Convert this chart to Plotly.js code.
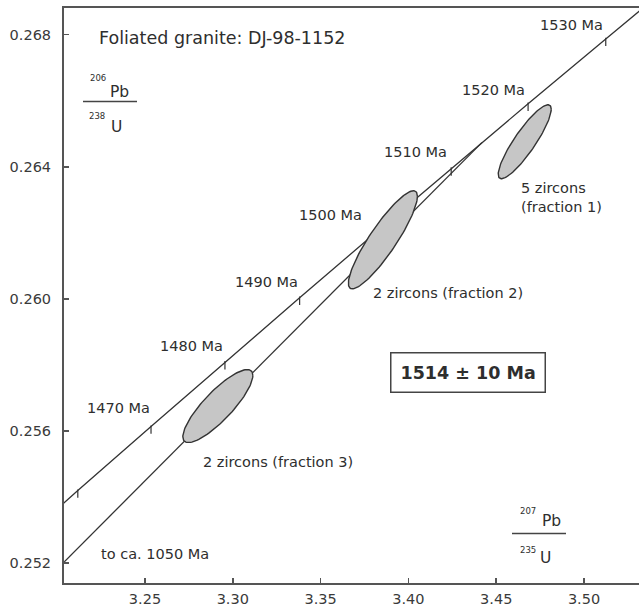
<!DOCTYPE html>
<html><head><meta charset="utf-8">
<script src="https://cdn.plot.ly/plotly-3.0.1.min.js"></script>
<style>html,body{margin:0;padding:0;background:#fff}#chart{width:639px;height:608px}</style>
</head><body><div id="chart"></div>
<script>
// Concordia curve points (age in Ma, 207Pb/235U, 206Pb/238U)
const concAges = [1455, 1460, 1470, 1480, 1490, 1500, 1510, 1520, 1530, 1540];
const concX = [3.19107, 3.21176, 3.25345, 3.29554, 3.33806, 3.38099, 3.42436, 3.46815, 3.51237, 3.55704];
const concY = [0.253209, 0.254189, 0.256128, 0.258078, 0.260031, 0.261987, 0.263947, 0.265909, 0.267874, 0.269843];
const tickAges = [1460, 1470, 1480, 1490, 1500, 1510, 1520, 1530];
// Discordia (to ca. 1050 Ma, upper intercept 1514 Ma)
const discX = [3.19, 3.44181];
const discY = [0.25128, 0.264731];
// Zircon fractions: centre, half-widths, correlation
const fracNames = ["fraction 1", "fraction 2", "fraction 3"];
const ellCx = [3.46623, 3.38548, 3.2915];
const ellCy = [0.264758, 0.261788, 0.25675];
const ellSx = [0.01509, 0.01965, 0.01993];
const ellSy = [0.001121, 0.001485, 0.001106];
const ellRho = [0.88, 0.886, 0.84];
// Axis ticks
const xTicks = [3.25, 3.30, 3.35, 3.40, 3.45, 3.50];
const xTickText = ["3.25", "3.30", "3.35", "3.40", "3.45", "3.50"];
const yTicks = [0.252, 0.256, 0.260, 0.264, 0.268];
const yTickText = ["0.252", "0.256", "0.260", "0.264", "0.268"];

const FONT = "DejaVu Sans, sans-serif";
const TXT = "#2e2e2e";
const L = 64, T = 8, W = 575, H = 575;
const px = x => (x - L) / W;
const py = y => (T + H - y) / H;

const traces = [];
traces.push({x: discX, y: discY, mode: "lines", line: {color: "#333", width: 1.3}, hoverinfo: "skip"});
traces.push({x: concX, y: concY, mode: "lines", line: {color: "#333", width: 1.3}, hoverinfo: "skip"});
const tx = [], ty = [];
tickAges.forEach(a => { const i = concAges.indexOf(a); tx.push(concX[i]); ty.push(concY[i]); });
traces.push({x: tx, y: ty, mode: "markers", hoverinfo: "skip",
  marker: {symbol: "line-ns", size: 6, angle: 0, standoff: 3, color: "#333", line: {color: "#333", width: 1.2}}});
for (let k = 0; k < ellCx.length; k++) {
  const ex = [], ey = [];
  const s = Math.sqrt(1 - ellRho[k] * ellRho[k]);
  for (let j = 0; j <= 120; j++) {
    const th = 2 * Math.PI * j / 120;
    ex.push(ellCx[k] + ellSx[k] * Math.cos(th));
    ey.push(ellCy[k] + ellSy[k] * (ellRho[k] * Math.cos(th) + s * Math.sin(th)));
  }
  traces.push({x: ex, y: ey, mode: "lines", fill: "toself", fillcolor: "#c6c6c6",
    line: {color: "#333", width: 1.4}, name: fracNames[k], hoverinfo: "skip"});
}

function ann(text, x, y, size, opts) {
  return Object.assign({text: text, xref: "paper", yref: "paper", x: px(x), y: py(y),
    xanchor: "center", yanchor: "middle",
    showarrow: false, font: {family: FONT, size: size, color: TXT}}, opts || {});
}
const annotations = [
  ann("Foliated granite: DJ-98-1152", 97, 38, 17.5, {xanchor: "left"}),
  ann("1530 Ma", 571, 25, 14.5), ann("1520 Ma", 493, 90, 14.5), ann("1510 Ma", 415, 152, 14.5),
  ann("1500 Ma", 330, 215, 14.5), ann("1490 Ma", 266, 282, 14.5), ann("1480 Ma", 191, 346, 14.5),
  ann("1470 Ma", 118, 408, 14.5),
  ann("to ca. 1050 Ma", 155, 554, 14.5),
  ann("2 zircons (fraction 3)", 278, 462, 14.5),
  ann("2 zircons (fraction 2)", 448, 293, 14.5),
  ann("5 zircons<br>(fraction 1)", 519, 197, 14.5, {xanchor: "left", align: "left"}),
  ann("<b>1514 ± 10 Ma</b>", 468, 372, 17.5, {bordercolor: "#444", borderwidth: 1.5, borderpad: 9}),
  ann("Pb", 119, 92, 15.5), ann("206", 98, 78, 8.5), ann("U", 116, 127, 15.5), ann("238", 97, 116, 8.5),
  ann("Pb", 551, 521, 15.5), ann("207", 528, 511, 8.5), ann("U", 545, 558, 15.5), ann("235", 528, 550, 8.5)
];
const shapes = [
  {type: "line", xref: "paper", yref: "paper", x0: px(83), x1: px(137), y0: py(101.5), y1: py(101.5), line: {color: "#444", width: 1.6}},
  {type: "line", xref: "paper", yref: "paper", x0: px(512), x1: px(566), y0: py(533.5), y1: py(533.5), line: {color: "#444", width: 1.6}}
];

const axisCommon = {showgrid: false, zeroline: false, showline: true, linecolor: "#555", linewidth: 2,
  ticks: "inside", ticklen: 5, tickwidth: 1.5, tickcolor: "#555", automargin: false,
  tickfont: {family: FONT, size: 14.5, color: "#3a3a3a"}};
const layout = {
  width: 639, height: 608, margin: {l: L, r: 0, t: T, b: 608 - T - H},
  paper_bgcolor: "#fff", plot_bgcolor: "#fff", showlegend: false,
  xaxis: Object.assign({}, axisCommon, {range: [3.2039, 3.5313], tickvals: xTicks, ticktext: xTickText, mirror: true, ticklabelstandoff: 2}),
  yaxis: Object.assign({}, axisCommon, {range: [0.25139, 0.26881], tickvals: yTicks, ticktext: yTickText, mirror: false, ticklabelstandoff: 8}),
  annotations: annotations, shapes: shapes
};
Plotly.newPlot("chart", traces, layout, {displayModeBar: false, staticPlot: true});
</script></body></html>
